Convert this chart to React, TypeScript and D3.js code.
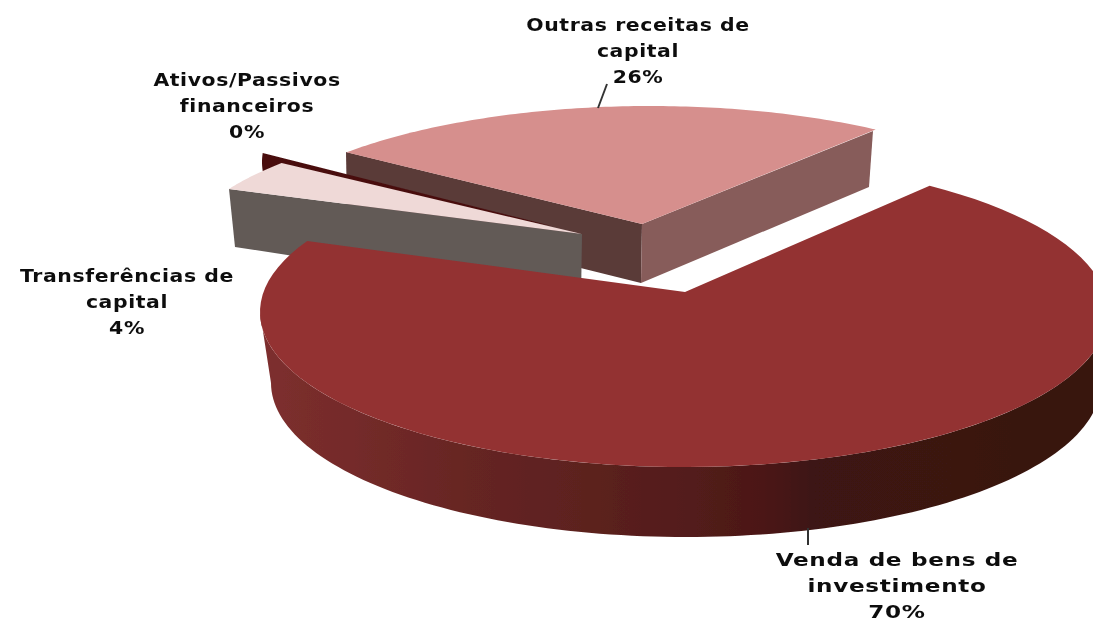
import React from "react";
import * as d3 from "d3";

// ---- data ----
const categories = ["Venda de bens de investimento", "Transferências de capital", "Ativos/Passivos financeiros", "Outras receitas de capital"];
const shares = [69.8, 3.9, 0.3, 26.0];
const labelLines = [["Venda de bens de", "investimento"], ["Transferências de", "capital"], ["Ativos/Passivos", "financeiros"], ["Outras receitas de", "capital"]];

// ---- presentation (not data) ----
const W = 1093, H = 621;
type Frame = {
  cx: number; cy: number; rx: number; ry: number; t0: number; t1: number;
  apex: [number, number]; top: string;
};
const frames: Frame[] = [
  { cx: 684, cy: 312, rx: 424, ry: 155, t0: -54.6, t1: 207.3, apex: [685, 292], top: "#933232" },
  { cx: 600, cy: 255, rx: 420, ry: 141, t0: -152.1, t1: -139.3, apex: [582, 234], top: "#efd9d7" },
  { cx: 662, cy: 162, rx: 400, ry: 150, t0: 183.4, t1: 176.6, apex: [552, 226], top: "#4a1010" },
  { cx: 650, cy: 256, rx: 420, ry: 150, t0: -136.3, t1: -57.5, apex: [642, 224], top: "#d68f8d" },
];
const labelPos = [
  { x: 897, y: 560, sx: 1.36 },
  { x: 127, y: 276, sx: 1.2 },
  { x: 247, y: 80, sx: 1.2 },
  { x: 638, y: 25, sx: 1.2 },
];
const LINE = 26;
const rad = (deg: number) => (deg * Math.PI) / 180;
const wallStops: [number, string][] = [
  [0, "#7d2f2e"], [0.1, "#752b2a"], [0.25, "#662523"], [0.42, "#5a201e"],
  [0.6, "#4c1817"], [0.66, "#3e1512"], [1, "#371410"],
];

export default function App() {
  const arcs = d3.pie<number>().sort(null).value((d) => d)(shares);
  const pct = d3.format(".0%");
  const total = d3.sum(shares);
  const lineGen = d3.line();

  const rim = (i: number) => {
    const f = frames[i];
    const a = arcs[i];
    const toT = d3.scaleLinear().domain([a.startAngle, a.endAngle]).range([f.t0, f.t1]);
    return d3.range(0, 101).map((k) => {
      const t = rad(toT(a.startAngle + ((a.endAngle - a.startAngle) * k) / 100));
      return [f.cx + f.rx * Math.cos(t), f.cy + f.ry * Math.sin(t)] as [number, number];
    });
  };
  const face = (i: number) => lineGen([frames[i].apex, ...rim(i)]) + "Z";

  const ell = (cx: number, cy: number, rx: number, ry: number, from: number, to: number) =>
    d3.range(0, 121).map((k) => {
      const t = rad(from + ((to - from) * k) / 120);
      return [cx + rx * Math.cos(t), cy + ry * Math.sin(t)] as [number, number];
    });
  const bigWall =
    lineGen([...ell(684, 312, 424, 155, 0, 180), ...ell(686, 383, 415, 154, 180, 0)]) + "Z";

  return (
    <svg width={W} height={H} viewBox={`0 0 ${W} ${H}`} style={{ position: "absolute", left: 0, top: 0, display: "block", background: "#fff" }}>
      <defs>
        <linearGradient id="wall" gradientUnits="userSpaceOnUse" x1={262} x2={1093} y1={0} y2={0}>
          {wallStops.map(([o, c]) => <stop key={o} offset={o} stopColor={c} />)}
        </linearGradient>
        <filter id="soft" x="-5%" y="-5%" width="110%" height="110%"><feGaussianBlur stdDeviation={0.6} /></filter>
        <filter id="softText" x="-5%" y="-20%" width="110%" height="140%"><feGaussianBlur stdDeviation={0.75} /></filter>
      </defs>
      <g filter="url(#soft)">
        {/* Outras receitas: walls + top */}
        <path d={lineGen([[346, 152], [642, 224], [641, 283], [347, 210]])! + "Z"} fill="#5a3a38" />
        <path d={lineGen([[642, 224], [873, 131], [869, 187], [641, 283]])! + "Z"} fill="#875c5a" />
        <path d={face(3)} fill={frames[3].top} />
        {/* Ativos/Passivos sliver */}
        <path d={face(2)} fill={frames[2].top} />
        {/* Transferências: wall + top */}
        <path d={lineGen([[229, 189], [582, 234], [581, 300], [235, 247]])! + "Z"} fill="#625a57" />
        <path d={face(1)} fill={frames[1].top} />
        {/* Venda: wall + top */}
        <path d={bigWall} fill="url(#wall)" />
        <path d={face(0)} fill={frames[0].top} />
        {/* leaders */}
        <line x1={607} y1={84} x2={598} y2={108} stroke="#333" strokeWidth={2} />
        <line x1={808} y1={528} x2={808} y2={545} stroke="#333" strokeWidth={2} />
      </g>
      <g filter="url(#softText)" fontFamily="'DejaVu Sans', sans-serif" fontWeight={700} fontSize={17} fill="#111" textAnchor="middle">
        {categories.map((c, i) => {
          const p = labelPos[i];
          const lines = [...labelLines[i], pct(shares[i] / total)];
          return (
            <g key={c}>
              {lines.map((l, j) => (
                <text key={j} transform={`translate(${p.x},${p.y + j * LINE + 6}) scale(${p.sx},1)`} letterSpacing={0.5}>{l}</text>
              ))}
            </g>
          );
        })}
      </g>
    </svg>
  );
}
